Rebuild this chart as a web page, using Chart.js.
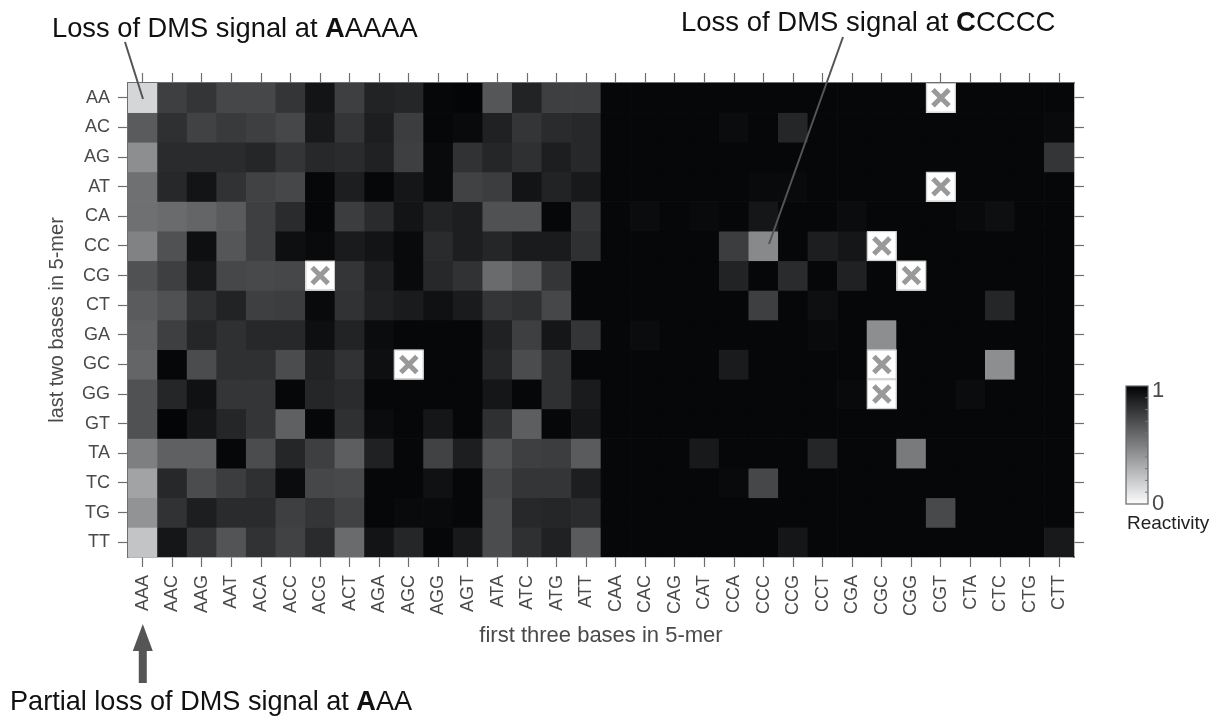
<!DOCTYPE html>
<html>
<head>
<meta charset="utf-8">
<script src="https://cdn.jsdelivr.net/npm/chart.js@4.4.1/dist/chart.umd.min.js"></script>
<style>
    html, body { margin: 0; padding: 0; background: #fff; }
    #wrap { width: 1220px; height: 719px; }
</style>
</head>
<body>
<div id="wrap"><canvas id="heatmap" width="1220" height="719"></canvas></div>
<script>
// first three bases (columns) and last two bases (rows) of the 5-mer
const firstThree = ['AAA', 'AAC', 'AAG', 'AAT', 'ACA', 'ACC', 'ACG', 'ACT',
    'AGA', 'AGC', 'AGG', 'AGT', 'ATA', 'ATC', 'ATG', 'ATT',
    'CAA', 'CAC', 'CAG', 'CAT', 'CCA', 'CCC', 'CCG', 'CCT',
    'CGA', 'CGC', 'CGG', 'CGT', 'CTA', 'CTC', 'CTG', 'CTT'];
const lastTwo = ['AA', 'AC', 'AG', 'AT', 'CA', 'CC', 'CG', 'CT',
    'GA', 'GC', 'GG', 'GT', 'TA', 'TC', 'TG', 'TT'];

// reactivity per row (null = no data, drawn as a crossed box)
const rowAA = [0.17, 0.76, 0.80, 0.73, 0.73, 0.80, 0.93, 0.76, 0.87, 0.86, 0.98, 0.99, 0.67, 0.87, 0.76, 0.76,
    0.98, 0.98, 0.98, 0.98, 0.98, 0.98, 0.98, 0.98, 0.98, 0.98, 0.98, null, 0.98, 0.98, 0.98, 0.98];
const rowAC = [0.65, 0.82, 0.75, 0.78, 0.76, 0.73, 0.91, 0.80, 0.89, 0.77, 0.98, 0.97, 0.88, 0.80, 0.84, 0.85,
    0.98, 0.98, 0.98, 0.98, 0.96, 0.98, 0.86, 0.98, 0.98, 0.98, 0.98, 0.98, 0.98, 0.98, 0.98, 0.97];
const rowAG = [0.45, 0.84, 0.84, 0.84, 0.86, 0.80, 0.85, 0.84, 0.88, 0.76, 0.97, 0.81, 0.86, 0.82, 0.89, 0.85,
    0.98, 0.98, 0.98, 0.98, 0.98, 0.98, 0.98, 0.98, 0.98, 0.98, 0.98, 0.98, 0.98, 0.98, 0.98, 0.80];
const rowAT = [0.57, 0.85, 0.93, 0.81, 0.75, 0.73, 0.98, 0.89, 0.98, 0.92, 0.97, 0.75, 0.77, 0.93, 0.87, 0.91,
    0.98, 0.98, 0.98, 0.98, 0.98, 0.97, 0.97, 0.98, 0.98, 0.98, 0.98, null, 0.98, 0.98, 0.98, 0.98];
const rowCA = [0.57, 0.59, 0.61, 0.65, 0.76, 0.84, 0.98, 0.77, 0.84, 0.93, 0.87, 0.89, 0.69, 0.69, 0.98, 0.80,
    0.98, 0.96, 0.98, 0.97, 0.98, 0.92, 0.98, 0.98, 0.96, 0.98, 0.98, 0.98, 0.97, 0.95, 0.98, 0.98];
const rowCC = [0.50, 0.69, 0.95, 0.67, 0.76, 0.95, 0.97, 0.90, 0.93, 0.97, 0.84, 0.89, 0.86, 0.90, 0.90, 0.82,
    0.98, 0.98, 0.98, 0.98, 0.77, 0.47, 0.98, 0.89, 0.92, null, 0.98, 0.98, 0.98, 0.98, 0.98, 0.98];
const rowCG = [0.69, 0.76, 0.91, 0.73, 0.72, 0.73, null, 0.80, 0.89, 0.97, 0.85, 0.81, 0.59, 0.65, 0.80, 0.98,
    0.98, 0.98, 0.98, 0.98, 0.87, 0.98, 0.84, 0.98, 0.88, 0.98, null, 0.98, 0.98, 0.98, 0.98, 0.98];
const rowCT = [0.65, 0.69, 0.82, 0.87, 0.76, 0.77, 0.97, 0.81, 0.88, 0.90, 0.94, 0.90, 0.80, 0.82, 0.73, 0.98,
    0.98, 0.98, 0.98, 0.98, 0.98, 0.76, 0.98, 0.95, 0.98, 0.98, 0.98, 0.98, 0.98, 0.86, 0.98, 0.98];
const rowGA = [0.63, 0.76, 0.86, 0.82, 0.85, 0.85, 0.95, 0.87, 0.96, 0.98, 0.98, 0.98, 0.88, 0.76, 0.92, 0.80,
    0.98, 0.96, 0.98, 0.98, 0.98, 0.98, 0.98, 0.97, 0.98, 0.45, 0.98, 0.98, 0.98, 0.98, 0.98, 0.98];
const rowGC = [0.61, 0.98, 0.71, 0.82, 0.82, 0.71, 0.87, 0.81, 0.95, null, 0.98, 0.98, 0.86, 0.71, 0.82, 0.98,
    0.98, 0.98, 0.98, 0.98, 0.90, 0.98, 0.98, 0.98, 0.98, null, 0.98, 0.98, 0.98, 0.45, 0.98, 0.98];
const rowGG = [0.69, 0.86, 0.94, 0.80, 0.80, 0.98, 0.86, 0.84, 0.98, 0.98, 0.98, 0.98, 0.92, 0.98, 0.82, 0.90,
    0.98, 0.98, 0.98, 0.98, 0.98, 0.98, 0.98, 0.98, 0.97, null, 0.98, 0.98, 0.96, 0.98, 0.98, 0.98];
const rowGT = [0.69, 0.99, 0.92, 0.86, 0.80, 0.63, 0.98, 0.82, 0.96, 0.98, 0.92, 0.98, 0.82, 0.64, 0.98, 0.92,
    0.98, 0.98, 0.98, 0.98, 0.98, 0.98, 0.98, 0.98, 0.98, 0.98, 0.98, 0.98, 0.98, 0.98, 0.98, 0.98];
const rowTA = [0.51, 0.63, 0.63, 0.98, 0.71, 0.86, 0.76, 0.64, 0.88, 0.98, 0.75, 0.89, 0.69, 0.76, 0.77, 0.65,
    0.98, 0.98, 0.98, 0.91, 0.98, 0.98, 0.98, 0.86, 0.98, 0.98, 0.53, 0.98, 0.98, 0.98, 0.98, 0.98];
const rowTC = [0.37, 0.85, 0.71, 0.77, 0.82, 0.96, 0.73, 0.72, 0.98, 0.98, 0.94, 0.98, 0.73, 0.80, 0.80, 0.89,
    0.98, 0.98, 0.98, 0.98, 0.97, 0.73, 0.98, 0.98, 0.98, 0.98, 0.98, 0.98, 0.98, 0.98, 0.98, 0.98];
const rowTG = [0.43, 0.81, 0.89, 0.84, 0.84, 0.76, 0.80, 0.75, 0.98, 0.97, 0.97, 0.98, 0.71, 0.85, 0.86, 0.84,
    0.98, 0.98, 0.98, 0.98, 0.98, 0.98, 0.98, 0.98, 0.98, 0.98, 0.98, 0.72, 0.98, 0.98, 0.98, 0.98];
const rowTT = [0.24, 0.92, 0.80, 0.68, 0.81, 0.75, 0.84, 0.59, 0.93, 0.86, 0.98, 0.91, 0.71, 0.82, 0.88, 0.65,
    0.98, 0.98, 0.98, 0.98, 0.98, 0.98, 0.92, 0.98, 0.98, 0.98, 0.98, 0.98, 0.98, 0.98, 0.98, 0.91];

const rows = [rowAA, rowAC, rowAG, rowAT, rowCA, rowCC, rowCG, rowCT,
    rowGA, rowGC, rowGG, rowGT, rowTA, rowTC, rowTG, rowTT];

const colorbarLabels = ['0', '1'];

const FONT = "'Liberation Sans', Arial, Helvetica, sans-serif";
const AXIS_GREY = '#6e6e6e';
const TEXT_GREY = '#4a4a4a';

// grey colormap: 0 -> white, 1 -> black
function cellColor(v) {
    if (v === null) return '#ffffff';
    const g = Math.round(255 * (1 - v));
    return `rgb(${g}, ${Math.min(255, g + 2)}, ${Math.min(255, g + 3)})`;
}

// one floating-bar dataset per row, each bar spans its row band
const datasets = lastTwo.map((name, i) => ({
    label: name,
    data: rows[i].map(() => [i, i + 1]),
    backgroundColor: rows[i].map(cellColor),
    borderWidth: 0,
    grouped: false,
    barPercentage: 1,
    categoryPercentage: 1
}));

function rowTicks(scale) {
    scale.ticks = lastTwo.map((_, i) => ({ value: i + 0.5 }));
}

const gridOpts = {
    drawOnChartArea: false,
    drawTicks: true,
    tickLength: 10,
    tickColor: AXIS_GREY,
    tickWidth: 1.2,
    offset: false
};
const borderOpts = { color: AXIS_GREY, width: 1.5 };

// white boxes with a grey cross for missing 5-mers
const missingMarks = {
    id: 'missingMarks',
    afterDatasetsDraw(chart) {
        const { ctx, scales: { x, y } } = chart;
        const arm = 8;
        rows.forEach((r, i) => r.forEach((v, j) => {
            if (v !== null) return;
            const cx = x.getPixelForValue(j);
            const cy = y.getPixelForValue(i + 0.5);
            const left = x.getPixelForValue(j - 0.5), right = x.getPixelForValue(j + 0.5);
            const top = y.getPixelForValue(i), bottom = y.getPixelForValue(i + 1);
            ctx.save();
            ctx.fillStyle = '#ffffff';
            ctx.fillRect(left, top, right - left, bottom - top);
            ctx.strokeStyle = '#c8c8c8';
            ctx.lineWidth = 1;
            ctx.strokeRect(left + 0.5, top + 0.5, right - left - 1, bottom - top - 1);
            ctx.strokeStyle = '#999999';
            ctx.lineWidth = 5;
            ctx.beginPath();
            ctx.moveTo(cx - arm, cy - arm); ctx.lineTo(cx + arm, cy + arm);
            ctx.moveTo(cx + arm, cy - arm); ctx.lineTo(cx - arm, cy + arm);
            ctx.stroke();
            ctx.restore();
        }));
    }
};

function drawRich(ctx, x, y, parts, size) {
    let cx = x;
    parts.forEach(([txt, bold]) => {
        ctx.font = `${bold ? 'bold ' : ''}${size}px ${FONT}`;
        ctx.fillText(txt, cx, y);
        cx += ctx.measureText(txt).width;
    });
}

// callouts, arrow and colour bar
const annotations = {
    id: 'annotations',
    afterDraw(chart) {
        const ctx = chart.ctx;
        ctx.save();
        ctx.fillStyle = '#111';
        ctx.textBaseline = 'alphabetic';
        ctx.textAlign = 'left';
        drawRich(ctx, 52, 37, [['Loss of DMS signal at ', false], ['A', true], ['AAAA', false]], 27.3);
        drawRich(ctx, 681, 31, [['Loss of DMS signal at ', false], ['C', true], ['CCCC', false]], 27.5);
        drawRich(ctx, 10, 710, [['Partial loss of DMS signal at ', false], ['A', true], ['AA', false]], 27.1);

        ctx.strokeStyle = '#555';
        ctx.lineWidth = 2;
        ctx.beginPath();
        ctx.moveTo(125, 42); ctx.lineTo(143, 99);
        ctx.moveTo(843, 37); ctx.lineTo(769, 244);
        ctx.stroke();

        // arrow under AAA
        const ax = chart.scales.x.getPixelForValue(0);
        ctx.fillStyle = '#555';
        ctx.beginPath();
        ctx.moveTo(ax, 624);
        ctx.lineTo(ax + 10, 651);
        ctx.lineTo(ax + 4, 651);
        ctx.lineTo(ax + 4, 683);
        ctx.lineTo(ax - 4, 683);
        ctx.lineTo(ax - 4, 651);
        ctx.lineTo(ax - 10, 651);
        ctx.closePath();
        ctx.fill();

        // colour bar
        const cbL = 1126, cbR = 1148, cbT = 386, cbB = 504;
        const grad = ctx.createLinearGradient(0, cbT, 0, cbB);
        grad.addColorStop(0, cellColor(1));
        grad.addColorStop(1, cellColor(0.02));
        ctx.fillStyle = grad;
        ctx.fillRect(cbL, cbT, cbR - cbL, cbB - cbT);
        ctx.strokeStyle = '#666';
        ctx.lineWidth = 1.2;
        ctx.strokeRect(cbL, cbT, cbR - cbL, cbB - cbT);
        ctx.lineWidth = 1;
        ctx.strokeStyle = '#777';
        ctx.beginPath();
        for (let k = 1; k < 10; k++) {
            const ty = cbB - (cbB - cbT) * k / 10;
            ctx.moveTo(cbR - 3, ty); ctx.lineTo(cbR, ty);
        }
        ctx.stroke();
        ctx.fillStyle = TEXT_GREY;
        ctx.font = `22px ${FONT}`;
        ctx.textBaseline = 'middle';
        ctx.fillText(colorbarLabels[1], cbR + 4, cbT + 5);
        ctx.fillText(colorbarLabels[0], cbR + 4, cbB);
        ctx.fillStyle = '#222';
        ctx.font = `19px ${FONT}`;
        ctx.textAlign = 'left';
        ctx.fillText('Reactivity', 1127, 524);
        ctx.restore();
    }
};

new Chart(document.getElementById('heatmap').getContext('2d'), {
    type: 'bar',
    data: { labels: firstThree, datasets },
    options: {
        responsive: false,
        devicePixelRatio: 1,
        animation: false,
        layout: { padding: { left: 41, top: 73, right: 136, bottom: 66 } },
        plugins: {
            legend: { display: false },
            tooltip: { enabled: false }
        },
        scales: {
            x: {
                type: 'category',
                position: 'bottom',
                offset: true,
                grid: gridOpts,
                border: borderOpts,
                ticks: {
                    color: TEXT_GREY,
                    font: { size: 18, family: FONT },
                    minRotation: 90,
                    maxRotation: 90,
                    autoSkip: false,
                    padding: 8
                },
                title: {
                    display: true,
                    text: 'first three bases in 5-mer',
                    color: TEXT_GREY,
                    font: { size: 22, family: FONT }
                },
                afterFit: s => { s.height = 96; }
            },
            x2: {
                type: 'category',
                position: 'top',
                offset: true,
                grid: gridOpts,
                border: borderOpts,
                ticks: { display: false },
                afterFit: s => { s.height = 10; }
            },
            y: {
                type: 'linear',
                position: 'left',
                min: 0,
                max: 16,
                reverse: true,
                afterBuildTicks: rowTicks,
                grid: gridOpts,
                border: borderOpts,
                ticks: {
                    color: TEXT_GREY,
                    font: { size: 18, family: FONT },
                    padding: 8,
                    callback: v => lastTwo[Math.floor(v)]
                },
                title: {
                    display: true,
                    text: 'last two bases in 5-mer',
                    color: TEXT_GREY,
                    font: { size: 20, family: FONT }
                },
                afterFit: s => { s.width = 87; }
            },
            y2: {
                type: 'linear',
                position: 'right',
                min: 0,
                max: 16,
                reverse: true,
                afterBuildTicks: rowTicks,
                grid: gridOpts,
                border: borderOpts,
                ticks: { display: false },
                afterFit: s => { s.width = 10; }
            }
        }
    },
    plugins: [missingMarks, annotations]
});
</script>
</body>
</html>
